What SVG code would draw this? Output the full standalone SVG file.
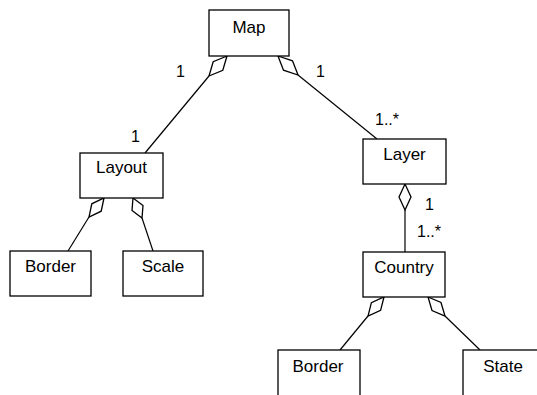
<svg xmlns="http://www.w3.org/2000/svg" width="537" height="395" viewBox="0 0 537 395">
  <style>
    .box { fill: #ffffff; stroke: #000000; stroke-width: 1.3; }
    .name { font-family: "Liberation Sans", Arial, sans-serif; font-size: 17px; fill: #000000; text-anchor: middle; }
    .mult { font-family: "Liberation Sans", Arial, sans-serif; font-size: 16px; fill: #000000; }
    .link { fill: none; stroke: #000000; stroke-width: 1.2; }
    .agg { fill: #ffffff; stroke: #000000; stroke-width: 1.3; stroke-linejoin: miter; }
  </style>
  <rect width="537" height="395" fill="#ffffff"/>

  <!-- aggregation connectors: hollow diamond at the whole, line to the part -->
  <g id="connectors">
    <!-- Map - Layout -->
    <line class="link" x1="209" y1="76" x2="145" y2="153"/>
    <polygon class="agg" points="227,56 222.8,70.3 209,76 213.2,61.7"/>
    <!-- Map - Layer -->
    <line class="link" x1="298" y1="75" x2="377" y2="139"/>
    <polygon class="agg" points="278,56 292.5,60.8 298,75 283.5,70.2"/>
    <!-- Layout - Border -->
    <line class="link" x1="89" y1="217" x2="68" y2="251"/>
    <polygon class="agg" points="104,198 101.2,211.2 89,217 91.8,203.8"/>
    <!-- Layout - Scale -->
    <line class="link" x1="142" y1="218" x2="153" y2="251"/>
    <polygon class="agg" points="133,198 143,205.5 142,218 132,210.5"/>
    <!-- Layer - Country -->
    <line class="link" x1="405" y1="210" x2="405" y2="252"/>
    <polygon class="agg" points="405,184 411,197 405,210 399,197"/>
    <!-- Country - Border -->
    <line class="link" x1="368" y1="316" x2="340" y2="350"/>
    <polygon class="agg" points="384,297 380.6,310.4 368,316 371.4,302.6"/>
    <!-- Country - State -->
    <line class="link" x1="445" y1="316" x2="480" y2="350"/>
    <polygon class="agg" points="428,297 441,302.5 445,316 432,310.5"/>

    <!-- multiplicities -->
    <text class="mult" x="176" y="77">1</text>
    <text class="mult" x="316" y="77">1</text>
    <text class="mult" x="375" y="125">1..*</text>
    <text class="mult" x="131" y="142">1</text>
    <text class="mult" x="425" y="210">1</text>
    <text class="mult" x="417" y="237">1..*</text>
  </g>

  <g id="map">
    <rect class="box" x="209" y="10" width="80" height="46"/>
    <text class="name" x="249" y="33">Map</text>
  </g>
  <g id="layout">
    <rect class="box" x="80" y="153" width="83" height="45"/>
    <text class="name" x="121.5" y="173">Layout</text>
  </g>
  <g id="layout-border">
    <rect class="box" x="10" y="251" width="81" height="45"/>
    <text class="name" x="50.5" y="272">Border</text>
  </g>
  <g id="scale">
    <rect class="box" x="123" y="251" width="80" height="45"/>
    <text class="name" x="163" y="272">Scale</text>
  </g>
  <g id="layer">
    <rect class="box" x="363" y="139" width="83" height="45"/>
    <text class="name" x="404.5" y="160">Layer</text>
  </g>
  <g id="country">
    <rect class="box" x="363" y="252" width="82" height="45"/>
    <text class="name" x="404" y="273">Country</text>
  </g>
  <g id="country-border">
    <rect class="box" x="278" y="350" width="82" height="60"/>
    <text class="name" x="318" y="372">Border</text>
  </g>
  <g id="state">
    <rect class="box" x="463" y="350" width="82" height="60"/>
    <text class="name" x="503" y="372">State</text>
  </g>
</svg>
